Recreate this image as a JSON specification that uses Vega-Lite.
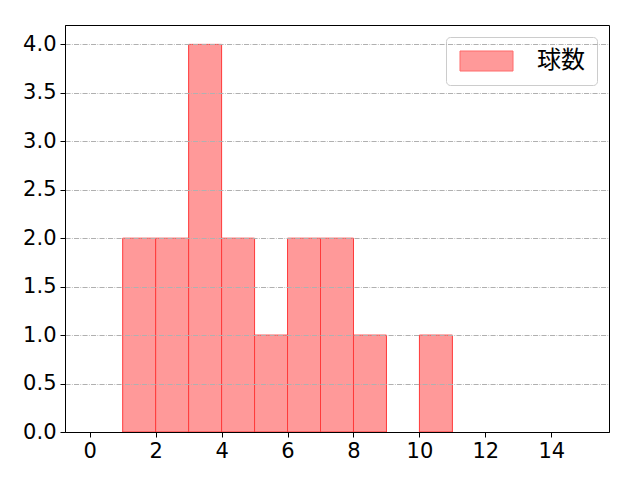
{
  "$schema": "https://vega.github.io/schema/vega-lite/v6.json",
  "width": 544,
  "height": 407,
  "autosize": {"type": "none"},
  "padding": {"left": 65, "top": 25, "right": 31, "bottom": 48},
  "background": "white",
  "config": {
    "view": {"stroke": "black", "strokeWidth": 1},
    "axis": {
      "labelFont": "DejaVu Sans",
      "labelFontSize": 21,
      "labelColor": "black",
      "domainColor": "black",
      "tickColor": "black",
      "tickSize": 5,
      "title": null
    }
  },
  "data": {
    "values": [
      {"bin_start": 1, "bin_end": 2, "count": 2, "series": "球数"},
      {"bin_start": 2, "bin_end": 3, "count": 2, "series": "球数"},
      {"bin_start": 3, "bin_end": 4, "count": 4, "series": "球数"},
      {"bin_start": 4, "bin_end": 5, "count": 2, "series": "球数"},
      {"bin_start": 5, "bin_end": 6, "count": 1, "series": "球数"},
      {"bin_start": 6, "bin_end": 7, "count": 2, "series": "球数"},
      {"bin_start": 7, "bin_end": 8, "count": 2, "series": "球数"},
      {"bin_start": 8, "bin_end": 9, "count": 1, "series": "球数"},
      {"bin_start": 10, "bin_end": 11, "count": 1, "series": "球数"}
    ]
  },
  "mark": {"type": "bar", "stroke": "#ff3a3a", "strokeWidth": 1},
  "encoding": {
    "x": {
      "field": "bin_start",
      "type": "quantitative",
      "scale": {"domain": [-0.75, 15.75], "nice": false, "zero": false},
      "axis": {"values": [0, 2, 4, 6, 8, 10, 12, 14], "grid": false, "labelPadding": 3, "labelFlush": false, "zindex": 2}
    },
    "x2": {"field": "bin_end"},
    "y": {
      "field": "count",
      "type": "quantitative",
      "scale": {"domain": [0, 4.2], "nice": false},
      "axis": {
        "values": [0, 0.5, 1, 1.5, 2, 2.5, 3, 3.5, 4],
        "format": ".1f",
        "grid": true,
        "gridColor": "#b0b0b0",
        "gridWidth": 1,
        "gridDash": [5.1, 1.3, 0.8, 1.3],
        "labelPadding": 4,
        "labelFlush": false,
        "zindex": 1
      }
    },
    "y2": {"datum": 0},
    "fill": {
      "field": "series",
      "type": "nominal",
      "scale": {"range": ["#ff9999"]},
      "legend": {
        "title": null,
        "orient": "none",
        "legendX": 381,
        "legendY": 12,
        "fillColor": "white",
        "strokeColor": "#cccccc",
        "cornerRadius": 4,
        "padding": 12,
        "symbolType": "M-1,-1H4.3V1H-1Z",
        "symbolSize": 400,
        "symbolStrokeColor": "#ff6b6b",
        "symbolStrokeWidth": 1,
        "labelFont": "Noto Sans CJK JP",
        "labelFontSize": 24,
        "labelColor": "black",
        "labelOffset": 55
      }
    }
  }
}
